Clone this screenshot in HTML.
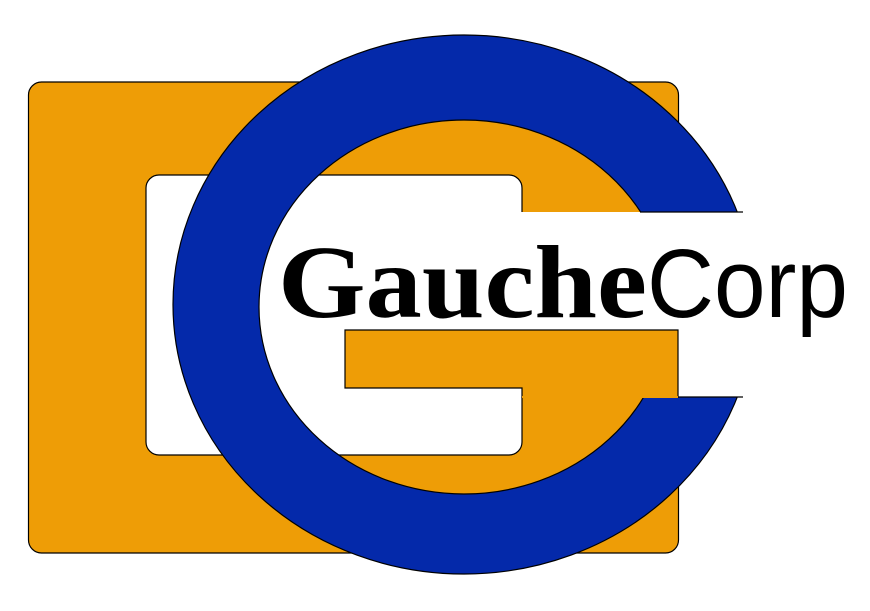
<!DOCTYPE html>
<html><head><meta charset="utf-8"><style>
html,body{margin:0;padding:0;background:#fff;}
svg{display:block;}
</style></head><body>
<svg width="870" height="611" viewBox="0 0 870 611">
  <rect x="28.5" y="82" width="650" height="471" rx="13" fill="#EE9D06" stroke="#000" stroke-width="1.2"/>
  <rect x="146" y="175" width="376" height="280" rx="13" fill="#fff" stroke="#000" stroke-width="1.2"/>
  <path fill-rule="evenodd" fill="#0429AA" stroke="#000" stroke-width="1.2"
    d="M 173 304.5 A 291 269.5 0 1 0 755 304.5 A 291 269.5 0 1 0 173 304.5 Z M 259 307 A 205 187 0 1 0 669 307 A 205 187 0 1 0 259 307 Z"/>
  <rect x="500" y="212" width="370" height="185" fill="#fff"/>
  <line x1="640" y1="212" x2="743" y2="212" stroke="#000" stroke-width="1.2"/>
  <line x1="642" y1="397" x2="743" y2="397" stroke="#000" stroke-width="1.2"/>
  <path d="M 345 330 H 678 V 397 H 522 V 388 H 345 Z" fill="#EE9D06" stroke="#000" stroke-width="1.2"/>
  <line x1="522" y1="397" x2="678" y2="397" stroke="#EE9D06" stroke-width="2"/>
  <text x="278" y="317" font-family="'Liberation Serif', serif" font-weight="bold" font-size="104" textLength="369" lengthAdjust="spacingAndGlyphs" fill="#000">Gauche</text>
  <text x="647" y="317" font-family="'Liberation Sans', sans-serif" font-size="97" textLength="201" lengthAdjust="spacingAndGlyphs" fill="#000">Corp</text>
</svg>
</body></html>
